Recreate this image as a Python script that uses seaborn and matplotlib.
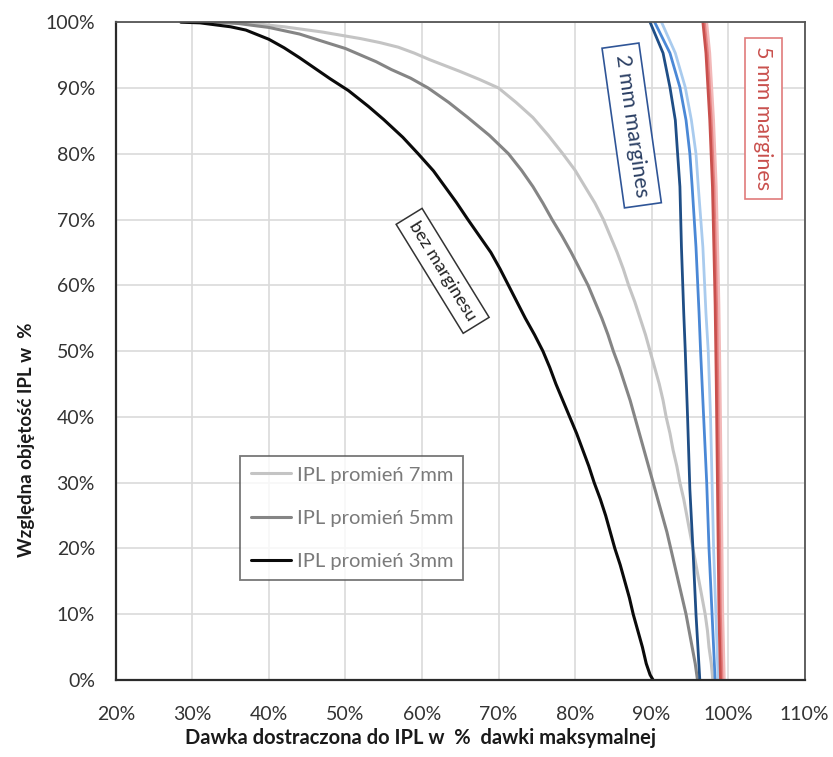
import matplotlib
matplotlib.use("Agg")
import matplotlib.pyplot as plt
import seaborn as sns
import pandas as pd
import numpy as np

# ---- data (dose % of max, relative volume %) ----
x_3mm = [28.5, 31, 33, 35, 37, 40, 42, 44, 46, 48, 50.4, 53, 55, 57.5, 59.5, 61.5, 63, 64.5, 66, 67.5, 69, 70.2, 71.3, 72.4, 73.5, 74.7, 75.8, 76.7, 77.5, 78.4, 79.3, 80.2, 81, 81.8, 82.5, 83.3, 84, 84.6, 85.2, 85.9, 86.5, 87.1, 87.6, 88.2, 88.8, 89.3, 89.8, 90.2]
y_3mm = [100, 99.9, 99.6, 99.3, 98.8, 97.4, 96.1, 94.6, 93.0, 91.4, 89.6, 87.2, 85.2, 82.5, 80, 77.4, 75, 72.6, 70, 67.5, 65, 62.5, 60, 57.5, 55, 52.5, 50, 47.5, 45, 42.5, 40, 37.5, 35, 32.5, 30, 27.5, 25, 22.5, 20, 17.5, 15, 12.5, 10, 7.5, 5, 2.5, 0.8, 0]

x_5mm = [33, 36, 40, 44, 47.8, 50, 52, 54, 56, 58.5, 60.8, 63.5, 66, 68.8, 71.3, 73, 74.5, 75.8, 77, 78.3, 79.5, 80.6, 81.7, 82.6, 83.5, 84.3, 85, 85.8, 86.5, 87.2, 87.8, 88.4, 89, 89.6, 90.2, 90.8, 91.4, 92, 92.5, 93, 93.5, 94, 94.5, 94.9, 95.3, 95.7, 96]
y_5mm = [100, 99.8, 99.2, 98.2, 96.8, 96.0, 95, 94, 92.8, 91.5, 90, 87.8, 85.5, 82.8, 80, 77.5, 75, 72.5, 70, 67.5, 65, 62.5, 60, 57.5, 55, 52.5, 50, 47.5, 45, 42.5, 40, 37.5, 35, 32.5, 30, 27.5, 25, 22.5, 20, 17.5, 15, 12.5, 10, 7.5, 5, 2.5, 0]

x_7mm = [34, 38, 42, 47, 52, 54.5, 56.9, 59, 61, 63, 65, 67.5, 70, 72.3, 74.5, 76.5, 78.4, 80, 81.3, 82.6, 83.7, 84.6, 85.5, 86.3, 87, 87.8, 88.5, 89.2, 89.8, 90.4, 91, 91.5, 91.9, 92.4, 92.8, 93.3, 93.7, 94.2, 94.6, 95, 95.4, 95.8, 96.2, 96.6, 97, 97.3, 97.5, 97.8, 98]
y_7mm = [100, 99.8, 99.3, 98.5, 97.5, 96.9, 96.2, 95.3, 94.3, 93.4, 92.5, 91.3, 90, 87.8, 85.5, 82.8, 80, 77.5, 75, 72.5, 70, 67.5, 65, 62.5, 60, 57.5, 55, 52.5, 50, 47.5, 45, 42.5, 40, 37.5, 35, 32.5, 30, 27.5, 25, 22.5, 20, 17.5, 15, 12.5, 10, 7.5, 5, 2.5, 0]

x_2m_3 = [89.8, 91.5, 92.4, 93.1, 93.4, 93.7, 93.9, 94.2, 94.4, 94.7, 95.0, 95.4, 95.8, 96.1, 96.3]
y_2m_3 = [100, 95.3, 90.1, 85.1, 80, 75, 65.8, 55.8, 50, 40, 29, 20, 10, 4, 0]
x_2m_5 = [90.4, 92.4, 93.7, 94.5, 95.0, 95.3, 95.8, 96.2, 96.4, 96.8, 97.2, 97.5, 97.9, 98.3]
y_2m_5 = [100, 95.3, 90.1, 85.1, 80, 75, 65.8, 55.8, 50, 40, 30, 20, 10, 0]
x_2m_7 = [91.3, 93.1, 94.4, 95.2, 95.8, 96.1, 96.7, 97.1, 97.4, 97.7, 97.9, 98.1, 98.4, 98.7]
y_2m_7 = [100, 95.3, 90.1, 85.1, 80, 75, 65.8, 55.8, 50, 40, 30, 20, 10, 0]

x_5m_3 = [96.7, 97.1, 97.6, 97.95, 98.15, 98.3, 98.45, 98.6, 98.8, 99.0]
y_5m_3 = [100, 95.3, 85.1, 75, 65, 57, 45, 30, 10, 0]
x_5m_5 = [96.9, 97.3, 97.8, 98.15, 98.35, 98.5, 98.65, 98.8, 99.0, 99.2]
y_5m_5 = [100, 95.3, 85.1, 75, 65, 57, 45, 30, 10, 0]
x_5m_7 = [97.2, 97.6, 98.1, 98.45, 98.65, 98.8, 98.95, 99.1, 99.3, 99.5]
y_5m_7 = [100, 95.3, 85.1, 75, 65, 57, 45, 30, 10, 0]

legend_labels = ["IPL promień 7mm", "IPL promień 5mm", "IPL promień 3mm"]
x_ticks = [20, 30, 40, 50, 60, 70, 80, 90, 100, 110]
y_ticks = [0, 10, 20, 30, 40, 50, 60, 70, 80, 90, 100]

def frame(xs, ys, name):
    return pd.DataFrame({"dose": xs, "vol": ys, "series": name})

sns.set_theme(style="white")
plt.rcParams["font.family"] = ["Lato", "DejaVu Sans"]

fig = plt.figure(figsize=(8.33, 7.57), dpi=100)
ax = fig.add_axes([0.139, 0.1017, 0.827, 0.869])

grey_df = pd.concat([frame(x_7mm, y_7mm, legend_labels[0]),
                     frame(x_5mm, y_5mm, legend_labels[1]),
                     frame(x_3mm, y_3mm, legend_labels[2])])
sns.lineplot(data=grey_df, x="dose", y="vol", hue="series", sort=False, estimator=None,
             palette={legend_labels[0]: "#C4C4C4", legend_labels[1]: "#858585", legend_labels[2]: "#0A0A0A"},
             linewidth=2.2, ax=ax)

blue_df = pd.concat([frame(x_2m_7, y_2m_7, "b7"), frame(x_2m_5, y_2m_5, "b5"), frame(x_2m_3, y_2m_3, "b3")])
sns.lineplot(data=blue_df, x="dose", y="vol", hue="series", sort=False, estimator=None,
             palette={"b7": "#A9CBEE", "b5": "#4A88D6", "b3": "#1F4E86"},
             linewidth=2.0, ax=ax, legend=False)

red_df = pd.concat([frame(x_5m_7, y_5m_7, "r7"), frame(x_5m_5, y_5m_5, "r5"), frame(x_5m_3, y_5m_3, "r3")])
sns.lineplot(data=red_df, x="dose", y="vol", hue="series", sort=False, estimator=None,
             palette={"r7": "#F2B8B8", "r5": "#E58080", "r3": "#C9504D"},
             linewidth=2.0, ax=ax, legend=False)

ax.set_xlim(20, 110)
ax.set_ylim(0, 100)
ax.set_xticks(x_ticks)
ax.set_yticks(y_ticks)
ax.set_xticklabels([f"{t}%" for t in x_ticks], fontsize=14, color="#333333")
ax.set_yticklabels([f"{t}%" for t in y_ticks], fontsize=14, color="#333333")
ax.tick_params(axis="x", length=0, pad=19)
ax.tick_params(axis="y", length=0, pad=15)
ax.grid(True, color="#DADADA", linewidth=1.2)
ax.set_axisbelow(True)
for s in ["left", "bottom"]:
    ax.spines[s].set_color("#2B2B2B")
    ax.spines[s].set_linewidth(1.6)
for s in ["top", "right"]:
    ax.spines[s].set_color("#555555")
    ax.spines[s].set_linewidth(1.3)

ax.set_xlabel("Dawka dostraczona do IPL w  %  dawki maksymalnej", fontsize=14.5,
              fontweight="bold", color="#1A1A1A")
ax.xaxis.set_label_coords(0.443, -0.073)
ax.set_ylabel("Względna objętość IPL w  %", fontsize=13.5, fontweight="bold",
              color="#1A1A1A")
ax.yaxis.set_label_coords(-0.117, 0.365)

leg = ax.legend(loc="upper left", bbox_to_anchor=(0.181, 0.340), fontsize=14.5,
                frameon=True, fancybox=False, handlelength=2.0, handletextpad=0.3,
                labelspacing=1.3, borderpad=0.5, borderaxespad=0, title=None)
leg.get_frame().set_edgecolor("#555555")
leg.get_frame().set_linewidth(1.3)
for t in leg.get_texts():
    t.set_color("#7A7A7A")

ax.text(87.4, 84.3, "2 mm margines", rotation=-82, rotation_mode="anchor",
        ha="center", va="center", fontsize=15.5, color="#2B3F63",
        bbox=dict(boxstyle="square,pad=0.4", fc="white", ec="#2F5597", lw=1.2))
ax.text(104.6, 85.4, "5 mm margines", rotation=-90, rotation_mode="anchor",
        ha="center", va="center", fontsize=15.5, color="#C9504D",
        bbox=dict(boxstyle="square,pad=0.4", fc="white", ec="#E07C7C", lw=1.2))
ax.text(62.7, 62.2, "bez marginesu", rotation=-58.4, rotation_mode="anchor",
        ha="center", va="center", fontsize=13, color="#222222",
        bbox=dict(boxstyle="square,pad=0.4", fc="white", ec="#333333", lw=1.1))

fig.savefig("out.png", dpi=100)
